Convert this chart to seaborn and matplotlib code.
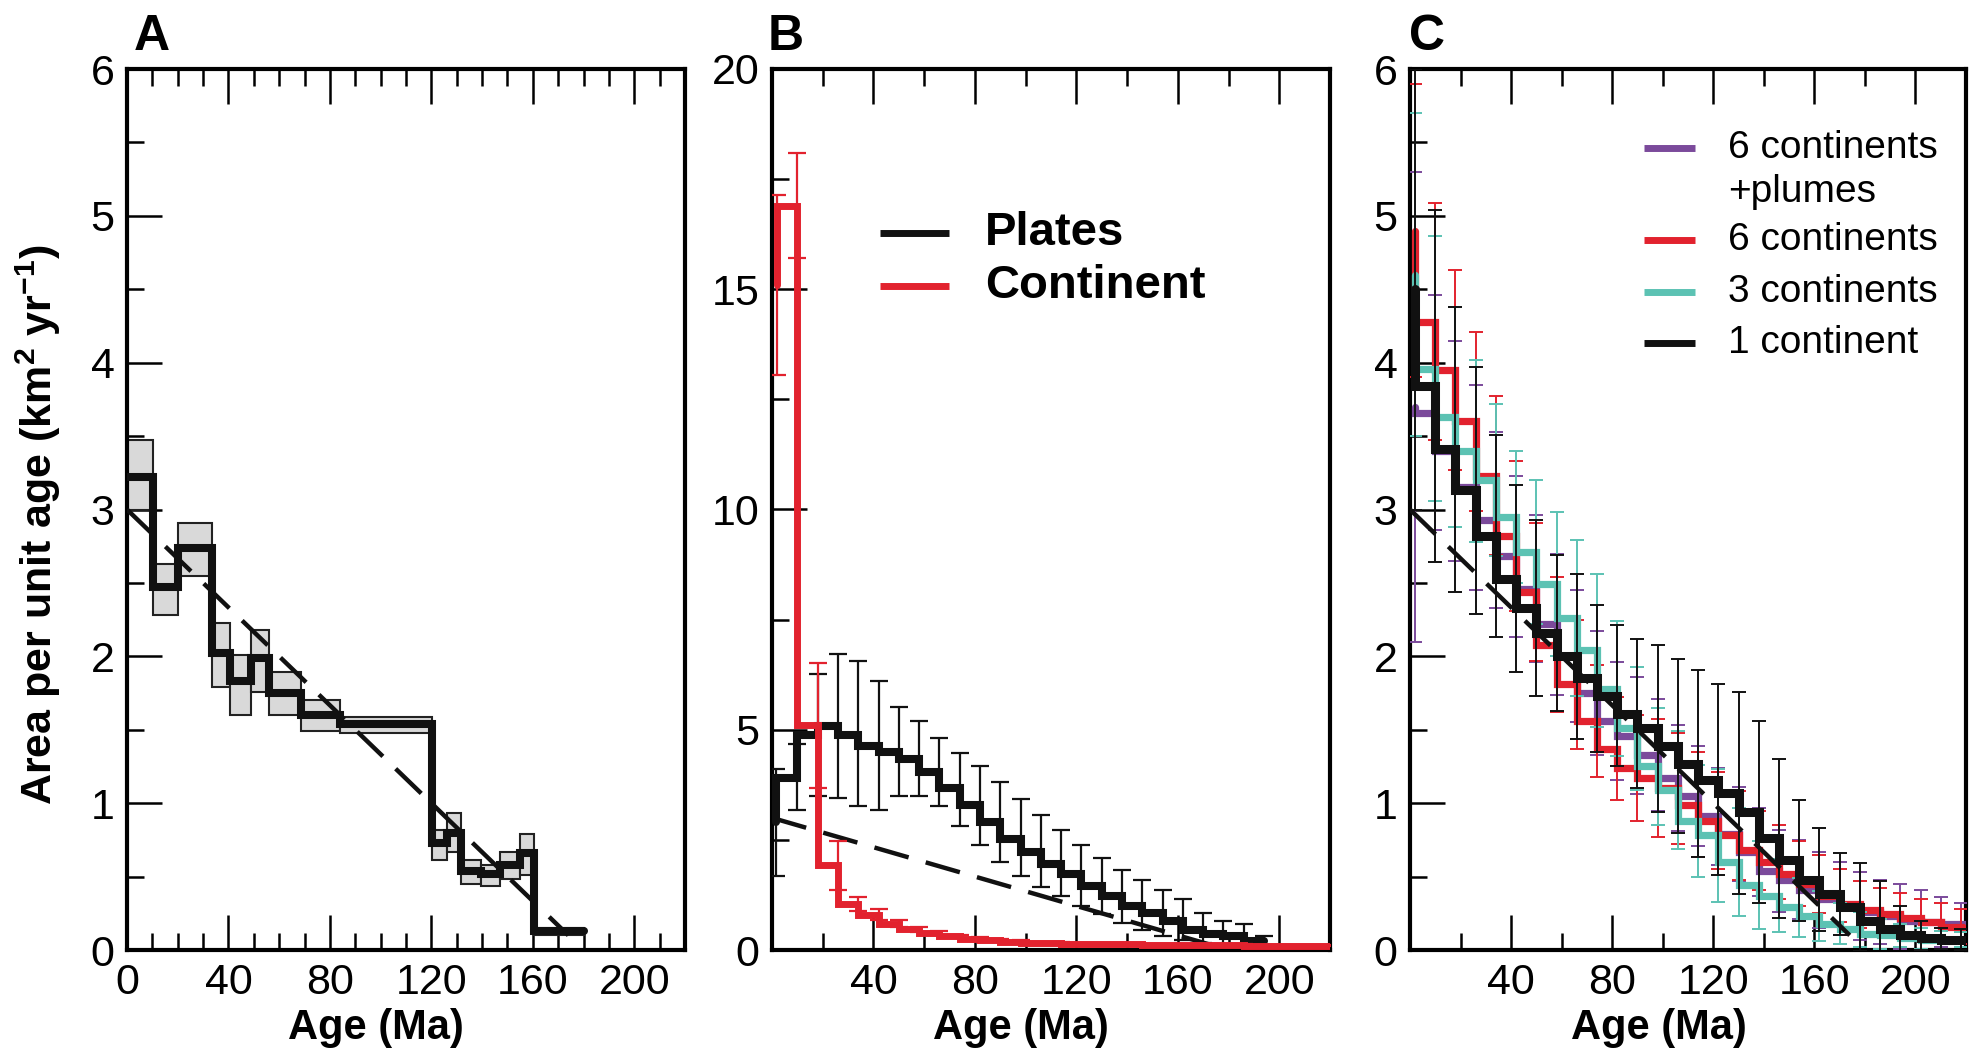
import numpy as np
import matplotlib
matplotlib.use("Agg")
import matplotlib.pyplot as plt
import seaborn as sns
from matplotlib.ticker import MultipleLocator, FixedLocator

# ---------------- data ----------------
# Panel A: irregular age bins (Ma), area rate with uncertainty band
a_edges = [0, 10.2, 20.2, 33.7, 40.7, 49, 56, 68.7, 84, 120.4, 126, 131.8, 139.5, 147, 155, 160.5, 180]
a_value = [3.22, 2.47, 2.74, 2.02, 1.83, 1.99, 1.75, 1.60, 1.54, 0.73, 0.80, 0.54, 0.52, 0.58, 0.66, 0.13]
a_lower = [3.00, 2.28, 2.55, 1.79, 1.60, 1.76, 1.60, 1.49, 1.48, 0.61, 0.67, 0.45, 0.435, 0.485, 0.51, 0.10]
a_upper = [3.47, 2.63, 2.91, 2.23, 2.01, 2.18, 1.89, 1.70, 1.59, 0.82, 0.93, 0.61, 0.58, 0.67, 0.79, 0.15]

# reference (dashed) line
fit_age = [0, 174]
fit_value = [3.0, 0.1]

# Panel B: plates
b_age_plates = [1.5, 10, 18, 26, 34, 42, 50, 58, 66, 74, 82, 90, 98, 106, 114, 122, 130,
                138, 146, 154, 162, 170, 178, 186, 194]
b_plates = [2.90, 3.91, 4.88, 5.08, 4.88, 4.64, 4.50, 4.33, 4.04, 3.68, 3.30, 2.91, 2.53,
            2.22, 1.96, 1.73, 1.46, 1.23, 1.00, 0.84, 0.65, 0.45, 0.36, 0.31, 0.21]
b_plates_lo = [1.69, 3.17, 3.49, 3.45, 3.26, 3.18, 3.49, 3.50, 3.26, 2.81, 2.38, 1.99, 1.69,
               1.43, 1.23, 1.00, 0.82, 0.61, 0.46, 0.31, 0.23, 0.15, 0.12, 0.12, 0.12]
b_plates_hi = [4.10, 4.68, 6.27, 6.73, 6.56, 6.10, 5.52, 5.19, 4.81, 4.47, 4.18, 3.81, 3.43,
               3.07, 2.72, 2.38, 2.09, 1.82, 1.59, 1.36, 1.15, 0.84, 0.65, 0.58, 0.31]

# Panel B: continent
b_age_cont = [2, 10, 18, 26, 34, 42, 50, 58, 66, 74, 82, 90, 98, 106, 114, 122, 130, 138,
              146, 154, 162, 170, 178, 186, 194, 202, 210, 218, 226]
b_cont = [15.1, 16.9, 5.10, 1.92, 1.04, 0.80, 0.60, 0.47, 0.38, 0.31, 0.26, 0.22, 0.19, 0.17,
          0.155, 0.145, 0.135, 0.13, 0.125, 0.12, 0.115, 0.11, 0.11, 0.105, 0.10, 0.10, 0.10,
          0.10, 0.10]
b_cont_err = [2.05, 1.20, 1.42, 0.55, 0.16, 0.12, 0.08, 0.06, 0.05, 0.04, 0.03, 0.03, 0.03,
              0.02, 0.02, 0.02, 0.02, 0.02, 0.02, 0.02, 0.02, 0.02, 0.02, 0.02, 0.02, 0.02,
              0.02, 0.02, 0.02]

# Panel C
c_age = [2, 10, 18, 26, 34, 42, 50, 58, 66, 74, 82, 90, 98, 106, 114, 122, 130, 138, 146,
         154, 162, 170, 178, 186, 194, 202, 210, 218, 226]
c_plume = [3.70, 3.66, 3.40, 3.15, 2.93, 2.68, 2.46, 2.22, 2.00, 1.75, 1.56, 1.46, 1.33, 1.17,
           1.05, 0.91, 0.79, 0.67, 0.54, 0.48, 0.41, 0.35, 0.30, 0.26, 0.23, 0.20, 0.19, 0.18, 0.18]
c_plume_err = [1.60, 0.80, 0.75, 0.70, 0.60, 0.55, 0.50, 0.48, 0.45, 0.42, 0.40, 0.40, 0.38,
               0.36, 0.34, 0.33, 0.32, 0.30, 0.28, 0.27, 0.26, 0.25, 0.23, 0.22, 0.22, 0.21,
               0.17, 0.14, 0.12]
c_six = [4.90, 4.28, 3.95, 3.60, 3.23, 2.82, 2.44, 2.08, 1.81, 1.56, 1.37, 1.24, 1.17, 1.10,
         0.99, 0.88, 0.78, 0.68, 0.60, 0.52, 0.45, 0.37, 0.31, 0.27, 0.245, 0.22, 0.19, 0.16, 0.15]
c_six_err = [1.00, 0.81, 0.68, 0.61, 0.54, 0.51, 0.47, 0.46, 0.44, 0.38, 0.35, 0.36, 0.40,
             0.38, 0.36, 0.33, 0.30, 0.27, 0.25, 0.22, 0.20, 0.18, 0.16, 0.15, 0.14, 0.13,
             0.13, 0.12, 0.12]
c_three = [4.60, 3.96, 3.63, 3.40, 3.20, 2.95, 2.71, 2.49, 2.26, 2.04, 1.78, 1.51, 1.25, 1.09,
           0.88, 0.78, 0.60, 0.44, 0.37, 0.29, 0.23, 0.18, 0.14, 0.11, 0.10, 0.08, 0.07, 0.07, 0.07]
c_three_err = [1.10, 0.90, 0.75, 0.62, 0.52, 0.45, 0.49, 0.49, 0.53, 0.52, 0.46, 0.42, 0.40,
               0.40, 0.38, 0.45, 0.37, 0.30, 0.25, 0.20, 0.17, 0.14, 0.12, 0.10, 0.08, 0.07,
               0.06, 0.05, 0.05]
c_one = [4.50, 3.84, 3.41, 3.13, 2.82, 2.53, 2.33, 2.16, 2.00, 1.85, 1.73, 1.61, 1.51, 1.39,
         1.27, 1.16, 1.07, 0.94, 0.76, 0.61, 0.48, 0.38, 0.29, 0.20, 0.14, 0.10, 0.08, 0.07, 0.07]
c_one_err = [1.50, 1.20, 0.97, 0.84, 0.69, 0.64, 0.60, 0.53, 0.56, 0.50, 0.48, 0.51, 0.57,
             0.59, 0.64, 0.65, 0.69, 0.62, 0.54, 0.41, 0.35, 0.28, 0.30, 0.27, 0.16, 0.10,
             0.07, 0.07, 0.07]

c_labels = ["6 continents\n+plumes", "6 continents", "3 continents", "1 continent"]
b_labels = ["Plates", "Continent"]

# ---------------- style ----------------
sns.set_theme(style="white")
plt.rcParams['font.family'] = ['Liberation Sans', 'DejaVu Sans']
plt.rcParams['mathtext.fontset'] = 'custom'
plt.rcParams['mathtext.rm'] = 'Liberation Sans'
plt.rcParams['mathtext.bf'] = 'Liberation Sans:bold'

BLACK = '#111111'
RED = '#E2222E'
PURPLE = '#7B4A9B'
TEAL = '#5CC2B3'
GREY = '#D9D9D9'
DASH = (0, (8, 4))

W, H = 1975, 1055
fig = plt.figure(figsize=(W / 100, H / 100), dpi=100)
fig.patch.set_facecolor('white')

top_px, bot_px = 69, 950
def axpos(left, right):
    return [left / W, (H - bot_px) / H, (right - left) / W, (bot_px - top_px) / H]

axA = fig.add_axes(axpos(127, 685))
axB = fig.add_axes(axpos(772, 1330))
axC = fig.add_axes(axpos(1410, 1966))


def style_axis(ax, ylim, xmajor, xminor, ymajor, yminor):
    ax.set_xlim(0, 220)
    ax.set_ylim(*ylim)
    ax.xaxis.set_major_locator(FixedLocator(xmajor))
    ax.xaxis.set_minor_locator(FixedLocator(xminor))
    ax.yaxis.set_major_locator(MultipleLocator(ymajor))
    ax.yaxis.set_minor_locator(MultipleLocator(yminor))
    ax.tick_params(which='both', direction='in', top=True, right=False, bottom=True,
                   left=True, width=1.8, color='black')
    ax.tick_params(which='major', length=25, labelsize=31, pad=9, labelcolor='black')
    ax.tick_params(which='minor', length=12)
    for s in ax.spines.values():
        s.set_linewidth(3)
        s.set_color('black')
        s.set_visible(True)
    ax.set_facecolor('white')
    ax.grid(False)
    ax.set_xlabel('Age (Ma)', fontsize=30, fontweight='bold', color='black')
    ax.xaxis.set_label_coords(0.447, -0.066)
    ax.set_ylabel('')


def step_line(ax, x, y, color, lw, z):
    sns.lineplot(x=x, y=y, ax=ax, color=color, linewidth=lw, drawstyle='steps-pre',
                 estimator=None, sort=False, errorbar=None, legend=False,
                 solid_joinstyle='miter', zorder=z)


def dashed_fit(ax, z):
    sns.lineplot(x=fit_age, y=fit_value, ax=ax, color=BLACK, linewidth=3.2, linestyle=DASH,
                 estimator=None, sort=False, errorbar=None, legend=False, zorder=z)


# ---------------- Panel A ----------------
a_left = a_edges[:-1]
a_width = np.diff(a_edges)
a_lo = np.array(a_lower)
a_hi = np.array(a_upper)
axA.bar(a_left, a_hi - a_lo, bottom=a_lo, width=a_width, align='edge', color=GREY,
        edgecolor='#222222', linewidth=1.5, zorder=2)
a_x = list(a_edges)
a_y = [a_value[0]] + list(a_value)
step_line(axA, a_x, a_y, BLACK, 5.8, 4)
dashed_fit(axA, 5)
style_axis(axA, (0, 6), [0, 40, 80, 120, 160, 200], list(range(0, 221, 10)), 1, 0.5)

# ---------------- Panel B ----------------
bp = np.array(b_plates)
axB.errorbar(b_age_plates, bp, yerr=[bp - np.array(b_plates_lo), np.array(b_plates_hi) - bp],
             fmt='none', ecolor=BLACK, elinewidth=1.6, capsize=6.8, capthick=1.6, zorder=3)
step_line(axB, b_age_plates, b_plates, BLACK, 5.8, 4)
dashed_fit(axB, 5)
axB.errorbar(b_age_cont, b_cont, yerr=b_cont_err, fmt='none', ecolor=RED, elinewidth=1.6,
             capsize=6.8, capthick=1.6, zorder=5)
step_line(axB, b_age_cont, b_cont, RED, 5.0, 6)
style_axis(axB, (0, 20), [40, 80, 120, 160, 200], list(range(20, 221, 20)), 5, 2.5)

# legend B (manual, matching the original layout)
for lab, col, yy in zip(b_labels, [BLACK, RED], [0.814, 0.754]):
    axB.plot([0.1935, 0.317], [yy, yy], transform=axB.transAxes, color=col, lw=5,
             solid_capstyle='butt', zorder=7)
    axB.text(0.382, yy, lab, transform=axB.transAxes, fontsize=34, fontweight='bold',
             ha='left', va='center', color='black')

# ---------------- Panel C ----------------
c_series = [(c_plume, c_plume_err, PURPLE, 5.2),
            (c_six, c_six_err, RED, 5.2),
            (c_three, c_three_err, TEAL, 5.2),
            (c_one, c_one_err, BLACK, 6.5)]
for k, (vals, errs, col, lw) in enumerate(c_series):
    axC.errorbar(c_age, vals, yerr=errs, fmt='none', ecolor=col, elinewidth=1.4,
                 capsize=5, capthick=1.4, zorder=3 + 2 * k)
    step_line(axC, c_age, vals, col, lw, 4 + 2 * k)
dashed_fit(axC, 12)
style_axis(axC, (0, 6), [40, 80, 120, 160, 200], list(range(20, 221, 20)), 1, 0.5)

# legend C (manual)
leg_y = [0.910, 0.806, 0.747, 0.689]
for lab, (vals, errs, col, lw), yy in zip(c_labels, c_series, leg_y):
    axC.plot([0.421, 0.513], [yy, yy], transform=axC.transAxes, color=col, lw=5,
             solid_capstyle='butt', zorder=15)
    first, *rest = lab.split('\n')
    axC.text(0.572, yy, first, transform=axC.transAxes, fontsize=28, ha='left',
             va='center', color='black', zorder=15)
    for j, line in enumerate(rest):
        axC.text(0.572, yy - 0.050 * (j + 1), line, transform=axC.transAxes, fontsize=28,
                 ha='left', va='center', color='black', zorder=15)

# ---------------- labels ----------------
fig.text(38 / W, 1 - 525 / H, r'Area per unit age (km$^{\mathbf{2}}$ yr$^{\mathbf{-1}}$)',
         rotation=90, ha='center', va='center', fontsize=31, fontweight='bold', color='black')
for letter, xpx in [('A', 134), ('B', 768), ('C', 1409)]:
    fig.text(xpx / W, 1 - 50 / H, letter, fontsize=36, fontweight='bold', ha='left',
             va='baseline', color='black')

fig.savefig('out.png', dpi=100, facecolor='white')
